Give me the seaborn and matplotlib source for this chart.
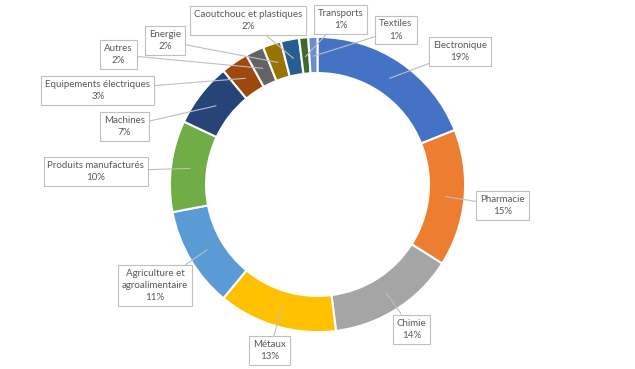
import numpy as np
import matplotlib
matplotlib.use("Agg")
import matplotlib.pyplot as plt
import seaborn as sns

categories = ["Electronique", "Pharmacie", "Chimie", "Métaux",
              "Agriculture et\nagroalimentaire", "Produits manufacturés",
              "Machines", "Equipements électriques", "Autres", "Energie",
              "Caoutchouc et plastiques", "Transports", "Textiles"]
values = [19, 15, 14, 13, 11, 10, 7, 3, 2, 2, 2, 1, 1]
colors = ["#4472C4", "#ED7D31", "#A5A5A5", "#FFC000", "#5B9BD5", "#70AD47",
          "#264478", "#9E480E", "#636363", "#997300", "#255E91", "#43682B",
          "#698ED0"]

# label box centres in pixel coordinates (layout only)
label_px = [(464, 49), (507, 205), (415, 330), (271, 352), (155, 286),
            (95, 170), (124, 125), (97, 88), (118, 52), (165, 38),
            (249, 17), (343, 16), (399, 27)]

sns.set_theme(style="white")
plt.rcParams['font.family'] = ['Lato', 'DejaVu Sans']

W, H = 635, 369
cx, cy, R = 319.5, 183.5, 149.5
fig = plt.figure(figsize=(W / 100, H / 100), dpi=100)
ax = fig.add_axes([0, 0, 1, 1])
ax.set_xlim((0 - cx) / R, (W - cx) / R)
ax.set_ylim((cy - H) / R, (cy - 0) / R)
ax.set_aspect('equal')
ax.axis('off')

wedges, _ = ax.pie(values, colors=colors, startangle=90, counterclock=False,
                   radius=1.0, wedgeprops=dict(width=0.245, edgecolor='white',
                                               linewidth=1.5))

total = sum(values)
for w, cat, v, (px, py) in zip(wedges, categories, values, label_px):
    ang = np.deg2rad((w.theta1 + w.theta2) / 2)
    r = 0.87
    xy = (r * np.cos(ang), r * np.sin(ang))
    tx, ty = (px - cx) / R, (cy - py) / R
    ax.annotate(f"{cat}\n{round(100 * v / total)}%", xy=xy, xytext=(tx, ty),
                ha='center', va='center', fontsize=7, color='#595959',
                linespacing=1.45,
                bbox=dict(boxstyle='square,pad=0.4', fc='white', ec='#BFBFBF',
                          lw=0.8),
                arrowprops=dict(arrowstyle='-', color='#BFBFBF', lw=0.8,
                                shrinkA=0, shrinkB=0))

fig.savefig("out.png", dpi=100, facecolor='white')
